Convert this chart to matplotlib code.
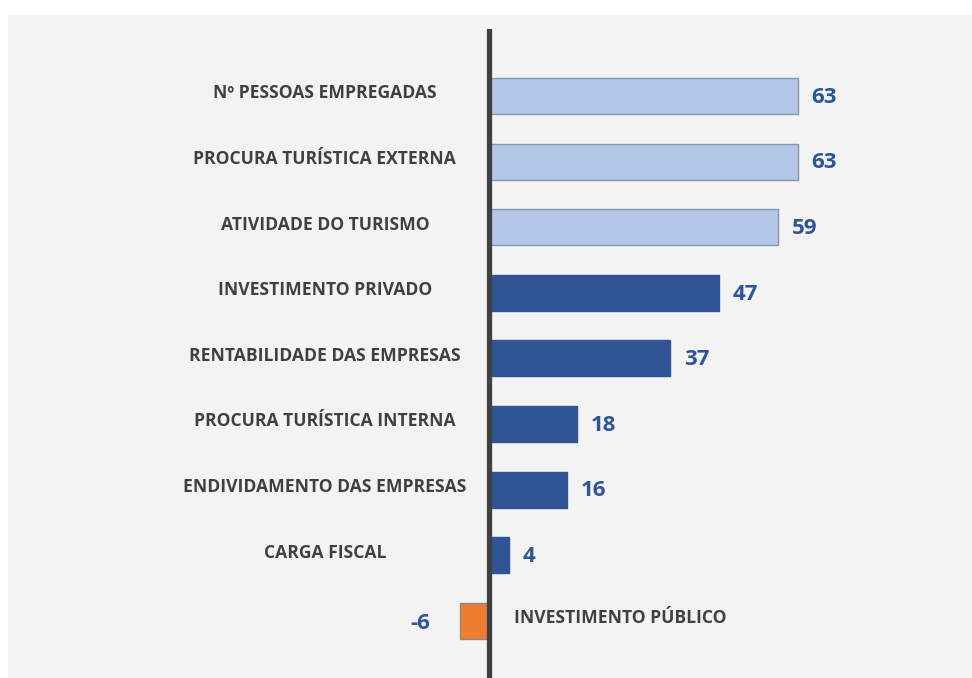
import matplotlib
matplotlib.use("Agg")
import matplotlib.pyplot as plt
from matplotlib.patches import Rectangle

# ---- Data --------------------------------------------------------------------
CATEGORIES = [
    "Nº PESSOAS EMPREGADAS",
    "PROCURA TURÍSTICA EXTERNA",
    "ATIVIDADE DO TURISMO",
    "INVESTIMENTO PRIVADO",
    "RENTABILIDADE DAS EMPRESAS",
    "PROCURA TURÍSTICA INTERNA",
    "ENDIVIDAMENTO DAS EMPRESAS",
    "CARGA FISCAL",
    "INVESTIMENTO PÚBLICO",
]
VALUES = [63, 63, 59, 47, 37, 18, 16, 4, -6]
GROUP = ["light", "light", "light", "dark", "dark", "dark", "dark", "dark", "neg"]

# ---- Colors ------------------------------------------------------------------
FILL = {"light": "#b4c7e7", "dark": "#2f5597", "neg": "#ed7d31"}
EDGE = {"light": "#8497b0", "dark": "#2f5597", "neg": "#8a8a8a"}
LABEL_C = "#404040"
VALUE_C = "#2f5597"
PANEL = "#f3f3f3"
FONT = "Open Sans"

W, H = 972, 678
fig = plt.figure(figsize=(W / 100, H / 100), dpi=100)
fig.patch.set_facecolor("white")
# grey panel behind the chart
fig.patches.append(Rectangle((8 / W, 0), 1 - 8 / W, 1 - 15 / H,
                             transform=fig.transFigure, facecolor=PANEL,
                             edgecolor="none", zorder=-5))

ax = fig.add_axes([0, 0, 1, 1 - 29 / H])
ax.set_facecolor("none")
for s in ax.spines.values():
    s.set_visible(False)
ax.set_xticks([])
ax.set_yticks([])

X0, SCALE = 489, 4.9      # pixel of zero, pixels per unit
ax.set_xlim(-X0 / SCALE, (W - X0) / SCALE)
ax.set_ylim(8.87, -1.02)

ys = list(range(len(VALUES)))
for y, v, g in zip(ys, VALUES, GROUP):
    ax.barh(y, v, height=0.55, color=FILL[g], edgecolor=EDGE[g],
            linewidth=1.0, zorder=2)

ax.axvline(0, color="#404040", lw=3.8, zorder=3)

for y, v, name in zip(ys, VALUES, CATEGORIES):
    if v >= 0:
        ax.text(-33.5, y - 0.04, name, ha="center", va="center", color=LABEL_C,
                fontsize=12.6, fontweight="bold", family=FONT)
        ax.text(v + 2.8, y + 0.02, f"{v}", ha="left", va="center",
                color=VALUE_C, fontsize=16, fontweight="bold", family=FONT)
    else:
        ax.text(5.2, y - 0.04, name, ha="left", va="center", color=LABEL_C,
                fontsize=12.6, fontweight="bold", family=FONT)
        ax.text(v - 6, y + 0.04, f"-{abs(v)}", ha="right", va="center",
                color=VALUE_C, fontsize=16, fontweight="bold", family=FONT)

fig.savefig("out.png", dpi=100, facecolor="white")
